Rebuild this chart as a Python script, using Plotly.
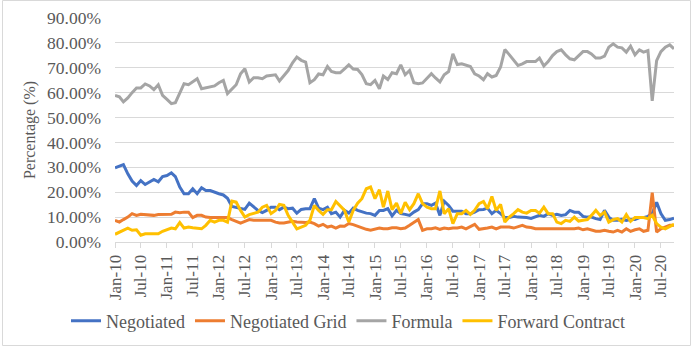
import pandas as pd
import plotly.graph_objects as go

months = pd.date_range("2010-01-01", periods=130, freq="MS")

negotiated = [29.8,30.5,31.1,27.4,24.5,22.7,24.7,23.1,24.2,25.1,
              24.2,26.3,26.7,27.8,26.3,22.1,19.4,19.4,21.4,19.4,
              21.8,20.7,20.7,20,19.4,18.9,17.6,14.3,14,13.6,
              13.1,15.6,
              14,12.7,11.8,12.7,14,14,13,14,13.4,13.6,
              11.6,13.1,13.4,13.4,17.4,13.6,13,14,11.4,12,
              10,12.7,11.6,13.6,12.7,12,11.6,11.4,10.7,12.7,
              12.7,13.4,10.5,
              12.7,11.4,11.1,10.7,12,13,15.4,15.4,14.7,15.6,
              10.7,16.4,14.7,12.4,12.4,12.4,11.4,11.4,12,13,
              13.1,13.6,11.4,12.7,11.4,9.8,9.8,10.3,10,10,
              9.8,9.5,10.2,
              10.7,10.3,11.4,10.7,11.1,10.7,11,12.7,12,12,
              10.3,10,10,9.4,9,12.7,10,8.7,8.7,9.1,
              8.7,9,9,9.8,9.8,10.3,11.4,16,11.4,8.7,
              9,9.6]

negotiated_grid = [8.7,8,9,10,11.4,10.7,11.1,11,10.7,10.7,
                   11,11,11.1,11.1,12,11.8,12,12,9.8,10.7,
                   10.7,10,9.8,9.8,9.8,9.8,9.8,9,8.3,7.6,
                   8.3,9,
                   8.7,8.7,9,8.7,8.7,8,7.6,7.6,8,8.3,
                   8,7.8,7.8,8,7.4,6.4,7.1,6,6.4,5.6,
                   6.4,6.3,7.4,7,6.3,5.6,5.1,4.7,5.3,5.6,
                   5.3,5.3,5.7,
                   5.7,5.3,5.6,6.7,8,9,4.7,5.3,5.3,5.7,
                   5.1,5.6,5.3,5.6,5.6,6,5.3,6.3,7.1,5.1,
                   5.3,5.6,6,5.3,6,6,6,5.6,6,6.7,
                   6,5.8,5.3,
                   5.3,5.1,5.1,5.3,5.3,5.3,5.3,5.3,5.3,5.6,
                   4.9,5.3,4.7,4.3,4.3,4.7,4.3,4,4.7,4,
                   5.3,4.3,4.9,5.3,4.3,4.7,19.8,4,5.3,6,
                   6.7,6.7]

formula = [58.9,58.3,56.3,57.9,60,61.9,61.9,63.5,62.7,61.2,
           63.2,58.9,57.3,55.6,56,59.6,63.6,63.2,64.3,65.6,
           61.6,61.9,62.5,62.7,64,64.9,59.6,61.3,63.2,67.6,
           69.6,64.3,66,66,65.6,66.7,66.9,67.2,64.7,66.7,
           68.9,72,74.3,73,72.3,64,65.2,67.5,67.2,70.5,
           68.5,68,68,69.6,71.2,69.5,69.3,67.3,63.6,63.2,
           64.9,61.6,66.7,65.3,68,67.6,71.2,67.2,68.9,64,
           63.6,63.9,65.6,67.6,65.9,64.3,67.2,68.5,75.6,71.3,
           71.6,70.9,70.5,67.6,66.7,65.2,67.6,66.3,66.9,70.3,
           77.3,75.3,72.9,70.9,71.6,72.5,72.5,72.5,73.9,70.7,
           72.5,74.9,76.5,77.2,75.2,73.6,73.2,74.9,76.5,76.5,
           75.6,73.9,73.9,74.7,78.3,79.6,78.3,78,76.3,78.7,
           75.2,77.2,76.3,76.9,56.7,72.9,76.5,78.3,79.2,77.6]

forward_contract = [3.1,4,4.7,5.6,4.7,4.9,2.7,3.3,3.3,3.3,
                    3.3,4.3,4.9,5.6,5.3,7.8,5.6,6,5.7,5.6,
                    5.3,6.7,8.7,8,8.7,8.7,8,16.4,16,12.7,
                    10,11,
                    11.6,12,14,14.7,11.4,12.7,15.1,14.7,10.7,8,
                    5.3,6,6.7,8.7,14.7,12.7,11.1,13,13,16.3,
                    14.7,12.7,8,12.7,15.6,17.4,21.4,22.1,17.4,21,
                    14,
                    20.5,13,15.6,11.4,16,13,15.4,19.4,15.4,14,
                    13.4,13.4,20.5,11.4,13.4,7.4,11.4,11.4,12.7,11.1,
                    12.7,15.4,16.3,13.4,18.3,12.7,15.1,8,10,11.4,
                    13,12,11.6,12.7,12.7,
                    11.6,14,11.4,11.4,8,7.4,8.7,8.3,10,8.4,
                    8.7,9,10.7,12.7,10.7,12,8,9,9.4,8,
                    11,8.3,9.8,9.8,9.8,9.4,10.7,7.4,6,5.3,
                    6.3,7.1]

series = [("Negotiated", negotiated, "#4472C4"),
          ("Negotiated Grid", negotiated_grid, "#ED7D31"),
          ("Formula", formula, "#A5A5A5"),
          ("Forward Contract", forward_contract, "#FFC000")]

FONT = "Times New Roman, Liberation Serif, serif"
TXT = "#595959"
W, H = 695, 350
ML, MR, MT, MB = 115, 21, 18, 108
PW, PH = W - ML - MR, H - MT - MB

fig = go.Figure()
for name, vals, col in series:
    fig.add_trace(go.Scatter(x=months, y=vals, name=name, mode="lines",
                             line=dict(color=col, width=3)))

def px_to_paper_x(px):
    return (px - ML) / PW

def px_to_paper_y(py):
    return (H - MB - py) / PH

fig.add_shape(type="rect", xref="paper", yref="paper",
              x0=px_to_paper_x(2.5), x1=px_to_paper_x(690.5),
              y0=px_to_paper_y(345.5), y1=px_to_paper_y(0.5),
              line=dict(color="#D9D9D9", width=1), fillcolor="rgba(0,0,0,0)",
              layer="below")

fig.update_layout(
    width=W, height=H,
    margin=dict(l=ML, r=MR, t=MT, b=MB, autoexpand=False),
    paper_bgcolor="white", plot_bgcolor="white",
    font=dict(family=FONT, size=17, color=TXT),
    showlegend=True,
    legend=dict(orientation="h", x=px_to_paper_x(348), xanchor="center",
                y=px_to_paper_y(321), yanchor="middle",
                font=dict(family=FONT, size=18, color=TXT),
                itemwidth=30, tracegroupgap=0),
    xaxis=dict(type="date", range=["2010-01-01", "2020-10-01"],
               tick0="2010-01-01", dtick="M6", tickformat="%b-%y",
               tickangle=-90, ticks="outside", ticklen=5, tickcolor="#D9D9D9",
               showline=True, linecolor="#D9D9D9", linewidth=1,
               showgrid=False, zeroline=False, automargin=False,
               tickfont=dict(family=FONT, size=17, color=TXT)),
    yaxis=dict(range=[0, 90], dtick=10, tick0=0, tickformat=".2f", ticksuffix="%",
               showgrid=True, gridcolor="#D9D9D9", gridwidth=1,
               zeroline=False, showline=False, ticks="", automargin=False,
               ticklabelstandoff=13,
               tickfont=dict(family=FONT, size=17.5, color=TXT),
               title=dict(text="Percentage (%)", standoff=7,
                          font=dict(family=FONT, size=16, color=TXT))),
)

fig.write_html("out.html")
